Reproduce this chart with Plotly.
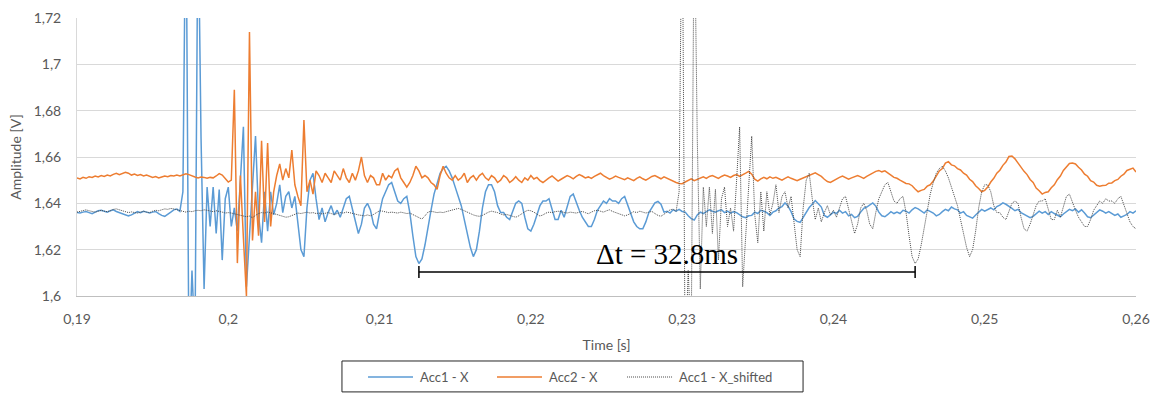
import numpy as np
import plotly.graph_objects as go

# Sampling grid of the Acc1 record (starts before the visible window so that
# the shifted copy covers the whole axis)
ACC1_T0 = 0.1572
ACC2_T0 = 0.19
DT = 0.0002
SHIFT_S = 0.0328          # time shift applied to Acc1 (32.8 ms)

# Acc1 - X, 0.1572 .. 0.1898 s (only visible through the shifted copy)
acc1_pre = [
    1.6362, 1.6365, 1.6368, 1.6372, 1.6368, 1.6364, 1.6362, 1.6366, 1.6370, 1.6366,
    1.6364, 1.6368, 1.6374, 1.6376, 1.6372, 1.6366, 1.6362, 1.6360, 1.6363, 1.6360,
    1.6358, 1.6362, 1.6366, 1.6362, 1.6360, 1.6366, 1.6370, 1.6368, 1.6372, 1.6376,
    1.6374, 1.6378, 1.6376, 1.6372, 1.6368, 1.6366, 1.6362, 1.6366, 1.6364, 1.6368,
    1.6370, 1.6368, 1.6372, 1.6370, 1.6366, 1.6364, 1.6368, 1.6366, 1.6362, 1.6358,
    1.6360, 1.6358, 1.6355, 1.6352, 1.6350, 1.6346, 1.6342, 1.6345, 1.6338, 1.6348,
    1.6356, 1.6360, 1.6358, 1.6362, 1.6360, 1.6356, 1.6352, 1.6348, 1.6344, 1.6340,
    1.6342, 1.6348, 1.6354, 1.6358, 1.6356, 1.6360, 1.6362, 1.6358, 1.6360, 1.6356,
    1.6358, 1.6354, 1.6356, 1.6360, 1.6356, 1.6352, 1.6356, 1.6360, 1.6358, 1.6362,
    1.6360, 1.6356, 1.6352, 1.6350, 1.6348, 1.6346, 1.6350, 1.6346, 1.6352, 1.6362,
    1.6368, 1.6366, 1.6364, 1.6360, 1.6362, 1.6360, 1.6358, 1.6362, 1.6360, 1.6356,
    1.6358, 1.6352, 1.6346, 1.6338, 1.6332, 1.6346, 1.6362, 1.6366, 1.6364, 1.6360,
    1.6362, 1.6360, 1.6364, 1.6368, 1.6372, 1.6376, 1.6378, 1.6374, 1.6368, 1.6360,
    1.6354, 1.6350, 1.6346, 1.6344, 1.6348, 1.6356, 1.6362, 1.6366, 1.6364, 1.6360,
    1.6354, 1.6350, 1.6352, 1.6348, 1.6344, 1.6340, 1.6346, 1.6356, 1.6364, 1.6370,
    1.6368, 1.6362, 1.6352, 1.6345, 1.6350, 1.6358, 1.6362, 1.6360, 1.6364, 1.6366,
    1.6364, 1.6360, 1.6358, 1.6362,
]

# Acc1 - X, 0.1900 .. 0.1964 s (rest before the impact)
acc1_rest = [
    1.6360, 1.6358, 1.6362, 1.6365, 1.6360, 1.6355, 1.6362, 1.6368, 1.6370, 1.6365,
    1.6362, 1.6368, 1.6372, 1.6365, 1.6360, 1.6356, 1.6350, 1.6346, 1.6350, 1.6358,
    1.6364, 1.6360, 1.6366, 1.6362, 1.6358, 1.6362, 1.6365, 1.6356, 1.6348, 1.6344,
    1.6352, 1.6362, 1.6372,
]

# Acc1 - X, 0.1966 .. 0.2000 s (impact, saturating the axis range)
acc1_impact = [
    1.6375, 1.6365, 1.6450, 1.7800, 1.5700, 1.6110, 1.5800, 1.7700, 1.6680, 1.6030,
    1.6470, 1.6300, 1.6470, 1.6270, 1.6460, 1.6155, 1.6420, 1.6470,
]

# Acc1 - X, 0.2002 .. 0.2600 s
acc1_tail = [
    1.6300, 1.6380, 1.6280, 1.6500, 1.6730, 1.6040, 1.6250, 1.6500, 1.6690, 1.6350,
    1.6230, 1.6450, 1.6280, 1.6450, 1.6350, 1.6400, 1.6480, 1.6360, 1.6430, 1.6450,
    1.6380, 1.6430, 1.6320, 1.6200, 1.6170, 1.6380, 1.6500, 1.6530, 1.6420, 1.6330,
    1.6380, 1.6320, 1.6360, 1.6390, 1.6350, 1.6370, 1.6340, 1.6380, 1.6420, 1.6430,
    1.6380, 1.6320, 1.6270, 1.6310, 1.6380, 1.6400, 1.6370, 1.6310, 1.6290, 1.6360,
    1.6420, 1.6450, 1.6480, 1.6490, 1.6450, 1.6410, 1.6400, 1.6420, 1.6430, 1.6360,
    1.6260, 1.6170, 1.6140, 1.6160, 1.6220, 1.6300, 1.6370, 1.6440, 1.6490, 1.6530,
    1.6550, 1.6560, 1.6540, 1.6510, 1.6470, 1.6430, 1.6390, 1.6330, 1.6270, 1.6210,
    1.6170, 1.6200, 1.6280, 1.6380, 1.6450, 1.6480, 1.6480, 1.6450, 1.6390, 1.6360,
    1.6360, 1.6340, 1.6330, 1.6370, 1.6400, 1.6410, 1.6400, 1.6340, 1.6290, 1.6280,
    1.6310, 1.6350, 1.6390, 1.6410, 1.6410, 1.6420, 1.6370, 1.6330, 1.6330, 1.6370,
    1.6340, 1.6380, 1.6430, 1.6440, 1.6400, 1.6370, 1.6340, 1.6320, 1.6300, 1.6300,
    1.6330, 1.6370, 1.6390, 1.6410, 1.6400, 1.6420, 1.6410, 1.6410, 1.6400, 1.6420,
    1.6430, 1.6390, 1.6350, 1.6320, 1.6300, 1.6290, 1.6290, 1.6320, 1.6360, 1.6380,
    1.6402, 1.6408, 1.6396, 1.6362, 1.6366, 1.6358, 1.6372, 1.6366, 1.6374, 1.6365,
    1.6362, 1.6346, 1.6334, 1.6328, 1.6350, 1.6362, 1.6356, 1.6364, 1.6372, 1.6366,
    1.6362, 1.6368, 1.6372, 1.6360, 1.6366, 1.6358, 1.6364, 1.6360, 1.6352, 1.6342,
    1.6338, 1.6346, 1.6348, 1.6362, 1.6356, 1.6370, 1.6366, 1.6360, 1.6348, 1.6362,
    1.6368, 1.6380, 1.6386, 1.6402, 1.6388, 1.6364, 1.6332, 1.6322, 1.6318, 1.6340,
    1.6356, 1.6382, 1.6396, 1.6412, 1.6398, 1.6384, 1.6348, 1.6340, 1.6350, 1.6362,
    1.6356, 1.6370, 1.6358, 1.6364, 1.6346, 1.6352, 1.6338, 1.6344, 1.6362, 1.6378,
    1.6384, 1.6392, 1.6402, 1.6388, 1.6362, 1.6346, 1.6342, 1.6352, 1.6364, 1.6356,
    1.6362, 1.6356, 1.6370, 1.6366, 1.6358, 1.6372, 1.6382, 1.6376, 1.6368, 1.6358,
    1.6372, 1.6366, 1.6358, 1.6346, 1.6352, 1.6364, 1.6374, 1.6368, 1.6384, 1.6376,
    1.6372, 1.6358, 1.6364, 1.6348, 1.6342, 1.6336, 1.6350, 1.6362, 1.6374, 1.6366,
    1.6374, 1.6380, 1.6372, 1.6386, 1.6392, 1.6402, 1.6396, 1.6388, 1.6378, 1.6368,
    1.6374, 1.6360, 1.6352, 1.6346, 1.6338, 1.6344, 1.6354, 1.6366, 1.6358, 1.6364,
    1.6352, 1.6364, 1.6356, 1.6348, 1.6342, 1.6354, 1.6366, 1.6374, 1.6368, 1.6376,
    1.6362, 1.6372, 1.6358, 1.6342, 1.6338, 1.6350, 1.6364, 1.6372, 1.6366, 1.6358,
    1.6364, 1.6356, 1.6348, 1.6354, 1.6340, 1.6346, 1.6352, 1.6364, 1.6358, 1.6368,
]

# Acc2 - X, 0.1900 .. 0.2600 s
acc2_values = [
    1.6510, 1.6505, 1.6512, 1.6508, 1.6515, 1.6512, 1.6518, 1.6514, 1.6520, 1.6516,
    1.6522, 1.6518, 1.6525, 1.6530, 1.6524, 1.6528, 1.6534, 1.6530, 1.6522, 1.6526,
    1.6520, 1.6524, 1.6518, 1.6522, 1.6516, 1.6512, 1.6516, 1.6510, 1.6514, 1.6518,
    1.6515, 1.6520, 1.6518, 1.6522, 1.6518, 1.6524, 1.6528, 1.6524, 1.6518, 1.6514,
    1.6510, 1.6514, 1.6512, 1.6508, 1.6512, 1.6510, 1.6518, 1.6528, 1.6522, 1.6505,
    1.6492,
    1.6500, 1.6890, 1.6142, 1.6520, 1.6250, 1.6000, 1.7140, 1.6240, 1.6450, 1.6260,
    1.6670, 1.6320, 1.6660, 1.6300, 1.6450, 1.6520, 1.6570, 1.6500, 1.6550, 1.6510,
    1.6630, 1.6480, 1.6430, 1.6390, 1.6760, 1.6450, 1.6500, 1.6440, 1.6540, 1.6520,
    1.6490, 1.6530, 1.6510, 1.6490, 1.6540, 1.6520, 1.6500, 1.6550, 1.6510, 1.6490,
    1.6530, 1.6500, 1.6540, 1.6600, 1.6520, 1.6490, 1.6520, 1.6510, 1.6480, 1.6480,
    1.6530, 1.6500, 1.6520, 1.6510, 1.6540, 1.6550, 1.6510, 1.6490, 1.6470, 1.6490,
    1.6520, 1.6560, 1.6540, 1.6510, 1.6520, 1.6510, 1.6490, 1.6480, 1.6460, 1.6520,
    1.6560, 1.6530, 1.6510, 1.6500, 1.6520, 1.6500, 1.6510, 1.6530, 1.6490, 1.6510,
    1.6520, 1.6500, 1.6520, 1.6530, 1.6510, 1.6500, 1.6520, 1.6510, 1.6490, 1.6500,
    1.6520, 1.6510, 1.6490, 1.6500, 1.6515, 1.6500, 1.6490, 1.6510, 1.6500, 1.6520,
    1.6505, 1.6512, 1.6498, 1.6490, 1.6502, 1.6510, 1.6518, 1.6508, 1.6496, 1.6504,
    1.6512, 1.6520, 1.6514, 1.6506, 1.6516, 1.6524, 1.6518, 1.6510, 1.6514, 1.6508,
    1.6516, 1.6522, 1.6530, 1.6520, 1.6512, 1.6504, 1.6510, 1.6518, 1.6512, 1.6506,
    1.6502, 1.6510, 1.6504, 1.6498, 1.6508, 1.6514, 1.6506, 1.6500, 1.6508, 1.6516,
    1.6520, 1.6512, 1.6506, 1.6514, 1.6508, 1.6500, 1.6494, 1.6490, 1.6486, 1.6485,
    1.6492, 1.6500, 1.6506, 1.6498, 1.6504, 1.6510, 1.6514, 1.6508, 1.6516, 1.6520,
    1.6514, 1.6508, 1.6516, 1.6522, 1.6518, 1.6512, 1.6520, 1.6524, 1.6516, 1.6522,
    1.6530, 1.6538, 1.6526, 1.6504, 1.6496, 1.6506, 1.6512, 1.6506, 1.6514, 1.6508,
    1.6512, 1.6506, 1.6500, 1.6508, 1.6514, 1.6508, 1.6502, 1.6498, 1.6504, 1.6510,
    1.6516, 1.6522, 1.6528, 1.6532, 1.6524, 1.6516, 1.6504, 1.6494, 1.6490, 1.6498,
    1.6506, 1.6512, 1.6518, 1.6510, 1.6504, 1.6510, 1.6516, 1.6520, 1.6514, 1.6508,
    1.6516, 1.6524, 1.6532, 1.6538, 1.6542, 1.6536, 1.6540, 1.6532, 1.6522, 1.6512,
    1.6508, 1.6500, 1.6494, 1.6486, 1.6484, 1.6476, 1.6462, 1.6450, 1.6456, 1.6460,
    1.6474, 1.6480, 1.6496, 1.6516, 1.6540, 1.6550, 1.6574, 1.6580, 1.6566, 1.6562,
    1.6550, 1.6544, 1.6530, 1.6522, 1.6504, 1.6494, 1.6476, 1.6464, 1.6450, 1.6456,
    1.6470, 1.6492, 1.6508, 1.6530, 1.6543, 1.6564, 1.6578, 1.6602, 1.6604, 1.6592,
    1.6573, 1.6557, 1.6538, 1.6524, 1.6503, 1.6490, 1.6466, 1.6454, 1.6440, 1.6447,
    1.6450, 1.6467, 1.6480, 1.6502, 1.6518, 1.6542, 1.6556, 1.6572, 1.6574, 1.6570,
    1.6556, 1.6544, 1.6526, 1.6517, 1.6498, 1.6492, 1.6478, 1.6474, 1.6477, 1.6478,
    1.6487, 1.6488, 1.6498, 1.6503, 1.6517, 1.6526, 1.6542, 1.6546, 1.6552, 1.6535,
]

acc1_values = np.array(acc1_pre + acc1_rest + acc1_impact + acc1_tail)
acc1_time = ACC1_T0 + DT * np.arange(len(acc1_values))
acc2_time = ACC2_T0 + DT * np.arange(len(acc2_values))
shifted_time = acc1_time + SHIFT_S

# first arrival of the reflected wave: Acc1 minimum between 0.21 s and 0.22 s
win = (acc1_time > 0.21) & (acc1_time < 0.22)
dip_time = acc1_time[win][np.argmin(acc1_values[win])]
BRACKET_Y = 1.6104
TICK_H = 0.0026

BLUE = "#5B9BD5"
ORANGE = "#ED7D31"
DOTTED = "#4a4a4a"
TEXT_GREY = "#595959"
GRID = "#d9d9d9"
FONT = "Lato"

series = [
    ("Acc1 - X", BLUE, 1.5, "solid"),
    ("Acc2 - X", ORANGE, 1.5, "solid"),
    ("Acc1 - X_shifted", DOTTED, 1, "1px,1px"),
]

fig = go.Figure()
fig.add_trace(go.Scatter(x=acc1_time, y=acc1_values, mode="lines", name=series[0][0],
                         line=dict(color=BLUE, width=1.5)))
fig.add_trace(go.Scatter(x=acc2_time, y=acc2_values, mode="lines", name=series[1][0],
                         line=dict(color=ORANGE, width=1.5)))
fig.add_trace(go.Scatter(x=shifted_time, y=acc1_values, mode="lines", name=series[2][0],
                         line=dict(color=DOTTED, width=1, dash="1px,1px")))

# Δt bracket between the Acc1 dip and its shifted copy
t_end = dip_time + SHIFT_S
fig.add_shape(type="line", x0=dip_time, x1=t_end, y0=BRACKET_Y, y1=BRACKET_Y,
              line=dict(color="black", width=1.5))
for tx in (dip_time, t_end):
    fig.add_shape(type="line", x0=tx, x1=tx, y0=BRACKET_Y - TICK_H, y1=BRACKET_Y + TICK_H,
                  line=dict(color="black", width=1.5))
fig.add_annotation(x=(dip_time + t_end) / 2, y=1.6181, text="Δt = 32.8ms", showarrow=False,
                   font=dict(family="Liberation Serif", size=29, color="black"))

# legend framed below the plot area (paper coordinates)
fig.add_shape(type="rect", xref="paper", yref="paper", x0=0.2502, x1=0.6856,
              y0=-0.345, y1=-0.2338, line=dict(color="#262626", width=1),
              fillcolor="white", layer="above")
legend_x = [0.2748, 0.3966, 0.5194]
for (name, color, width, dash), lx in zip(series, legend_x):
    fig.add_shape(type="line", xref="paper", yref="paper", x0=lx, x1=lx + 0.0425,
                  y0=-0.2914, y1=-0.2914, line=dict(color=color, width=width, dash=dash))
    fig.add_annotation(xref="paper", yref="paper", x=lx + 0.0475, y=-0.2914, text=name,
                       showarrow=False, xanchor="left", yanchor="middle",
                       font=dict(family=FONT, size=13, color=TEXT_GREY))

fig.update_layout(
    width=1158, height=394, autosize=False,
    margin=dict(l=77, r=22, t=18, b=98, autoexpand=False),
    paper_bgcolor="white", plot_bgcolor="white",
    separators=",.",
    font=dict(family=FONT, size=14, color=TEXT_GREY),
    showlegend=False,
)
fig.update_xaxes(range=[0.19, 0.26], dtick=0.01, tick0=0.19, showgrid=False, zeroline=False,
                 showline=True, linecolor="#bfbfbf", linewidth=1, ticks="", automargin=False,
                 ticklabelstandoff=10,
                 title=dict(text="Time [s]", standoff=14, font=dict(size=14, color=TEXT_GREY)))
fig.update_yaxes(range=[1.6, 1.72], dtick=0.02, tick0=1.6, showgrid=True, gridcolor=GRID,
                 gridwidth=1, zeroline=False, showline=True, linecolor=GRID, ticks="",
                 automargin=False, ticklabelstandoff=12,
                 title=dict(text="Amplitude [V]", standoff=8, font=dict(size=14, color=TEXT_GREY)))

fig.write_html("out.html")
